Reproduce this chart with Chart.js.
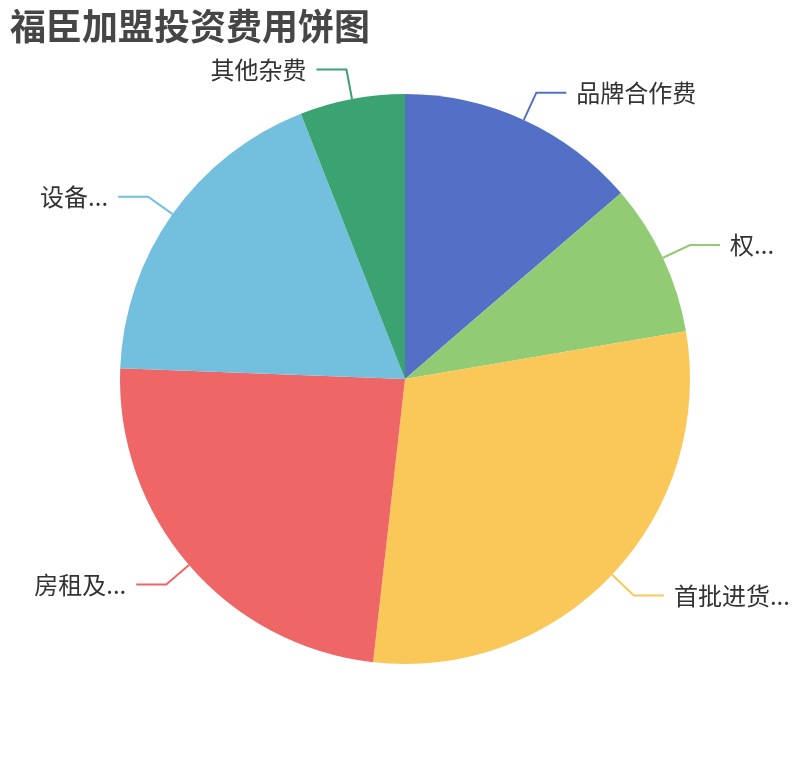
<!DOCTYPE html>
<html>
<head>
<meta charset="utf-8">
<script src="https://cdn.jsdelivr.net/npm/chart.js@4.4.1/dist/chart.umd.min.js"></script>
<style>
  body { margin: 0; background: #fff; }
  #pie { display: block; }
</style>
</head>
<body>
<canvas id="pie" width="810" height="760"></canvas>
<script>
// 福臣加盟投资费用
var titleText = "福臣加盟投资费用饼图";
var categories = ["品牌合作费", "权...", "首批进货...", "房租及...", "设备...", "其他杂费"];
var costs = [4.6, 2.9, 9.9, 8, 6.2, 2];
var colors = ["#5470c6", "#91cc75", "#fac858", "#ee6666", "#73c0de", "#3ba272"];

var labelFont = '24px "Noto Sans CJK SC", "Noto Sans", sans-serif';

// title + outside labels with leader lines, echarts style
var pieLabels = {
    id: "pieLabels",
    afterDatasetsDraw: function(chart) {
        var ctx = chart.ctx;
        var meta = chart.getDatasetMeta(0);
        ctx.save();

        ctx.font = 'bold 36px "Noto Sans CJK SC", "Noto Sans", sans-serif';
        ctx.fillStyle = "#464646";
        ctx.textBaseline = "middle";
        ctx.textAlign = "left";
        ctx.fillText(titleText, 10, 26);

        ctx.font = labelFont;
        ctx.lineWidth = 2;
        for (var i = 0; i < meta.data.length; i++) {
            var arc = meta.data[i];
            var p = arc.getProps(["x", "y", "startAngle", "endAngle", "outerRadius"], true);
            var mid = (p.startAngle + p.endAngle) / 2;
            var c = Math.cos(mid), s = Math.sin(mid);
            var x0 = p.x + p.outerRadius * c, y0 = p.y + p.outerRadius * s;
            var x1 = p.x + (p.outerRadius + 30) * c, y1 = p.y + (p.outerRadius + 30) * s;
            var dir = c >= 0 ? 1 : -1;
            var x2 = x1 + dir * 30;

            ctx.strokeStyle = colors[i];
            ctx.beginPath();
            ctx.moveTo(x0, y0);
            ctx.lineTo(x1, y1);
            ctx.lineTo(x2, y1);
            ctx.stroke();

            ctx.fillStyle = "#333";
            ctx.textAlign = dir > 0 ? "left" : "right";
            ctx.fillText(categories[i], x2 + dir * 10, y1);
        }
        ctx.restore();
    }
};

var chartdata = {
    labels: categories,
    datasets: [
        {
            label: "投资费用",
            data: costs,
            backgroundColor: colors,
            borderWidth: 0,
            hoverBorderWidth: 0,
            hoverOffset: 0
        }
    ]
};

var ctx = document.getElementById("pie");
var PieGraph = new Chart(ctx, {
    type: "pie",
    data: chartdata,
    options: {
        responsive: false,
        animation: false,
        layout: { padding: { top: 94, bottom: 96, left: 0, right: 0 } },
        plugins: {
            legend: { display: false },
            tooltip: { enabled: false }
        }
    },
    plugins: [pieLabels]
});
</script>
</body>
</html>
